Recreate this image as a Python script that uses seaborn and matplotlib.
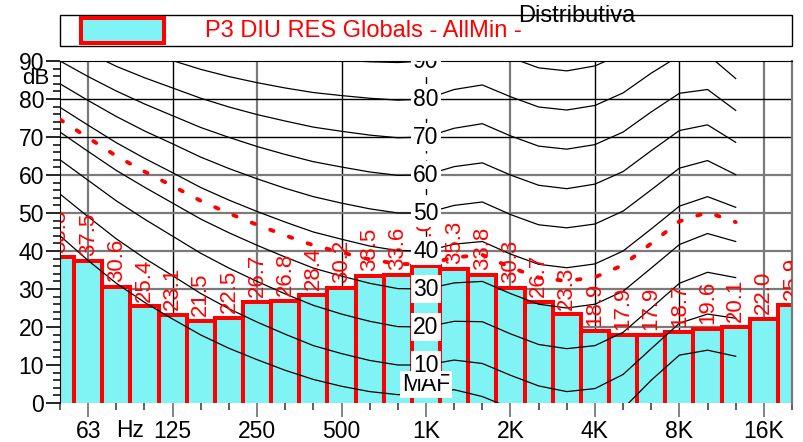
import numpy as np
import pandas as pd
import matplotlib
matplotlib.use("Agg")
import matplotlib.pyplot as plt
from matplotlib.patches import Rectangle
import seaborn as sns

# ---------------- data ----------------
bands = ["50", "63", "80", "100", "125", "160", "200", "250", "315", "400", "500",
         "630", "800", "1K", "1.25K", "1.6K", "2K", "2.5K", "3.15K", "4K", "5K",
         "6.3K", "8K", "10K", "12.5K", "16K", "20K"]
levels = [38.3, 37.5, 30.6, 25.4, 23.1, 21.5, 22.5, 26.7, 26.8, 28.4, 30.2,
          33.5, 33.6, 36.0, 35.3, 33.8, 30.3, 26.7, 23.3, 18.9, 17.9,
          17.9, 18.7, 19.6, 20.1, 22.0, 25.9]

# equal-loudness contours, 50 Hz .. 12.5 kHz (third-octave points)
contour_bands = bands[:25]
maf = [44.0, 37.5, 31.5, 26.5, 22.1, 17.9, 14.4, 11.4, 8.6, 6.2, 4.4, 3.0, 2.2, 2.4, 3.5, 1.7, -1.3, -4.2, -6.0, -5.4, -1.5, 6.0, 12.6, 13.9, 12.3]
phon10 = [55.0, 49.0, 43.2, 38.1, 33.5, 28.8, 24.8, 21.3, 18.1, 15.1, 13.0, 11.2, 10.0, 10.0, 11.3, 10.4, 7.3, 4.5, 3.0, 3.8, 7.5, 14.3, 21.0, 23.4, 22.3]
phon20 = [64.0, 58.6, 53.2, 48.4, 43.9, 39.4, 35.5, 32.0, 28.7, 25.7, 23.4, 21.5, 20.1, 20.0, 21.5, 21.4, 18.2, 15.4, 14.3, 15.1, 18.6, 25.0, 31.5, 34.4, 33.0]
phon30 = [71.3, 66.2, 61.2, 56.8, 52.6, 48.4, 44.8, 41.5, 38.4, 35.5, 33.4, 31.5, 30.1, 30.0, 31.6, 32.0, 28.8, 26.0, 25.0, 26.0, 29.4, 35.5, 41.7, 44.6, 42.5]
phon40 = [77.8, 73.1, 68.5, 64.4, 60.6, 56.7, 53.4, 50.4, 47.6, 45.0, 43.1, 41.3, 40.1, 40.0, 41.8, 42.5, 39.2, 36.5, 35.6, 36.6, 40.0, 45.8, 51.8, 54.3, 51.5]
phon50 = [84.0, 79.6, 75.4, 71.6, 68.2, 64.7, 61.7, 59.0, 56.5, 54.3, 52.6, 51.1, 50.0, 50.0, 52.0, 52.9, 49.6, 46.9, 46.1, 47.1, 50.5, 56.1, 61.8, 63.8, 60.1]
phon60 = [90.0, 85.9, 82.1, 78.7, 75.6, 72.5, 69.9, 67.5, 65.4, 63.5, 62.1, 60.8, 59.9, 60.0, 62.2, 63.2, 60.0, 57.3, 56.4, 57.6, 60.9, 66.4, 71.7, 73.2, 68.6]
phon70 = [95.9, 92.2, 88.6, 85.6, 82.9, 80.2, 77.9, 75.9, 74.2, 72.6, 71.5, 70.5, 69.8, 70.0, 72.3, 73.5, 70.3, 67.6, 66.8, 68.0, 71.3, 76.6, 81.5, 82.5, 77.0]
phon80 = [101.7, 98.4, 95.2, 92.5, 90.1, 87.8, 85.9, 84.3, 82.9, 81.7, 80.9, 80.2, 79.7, 80.0, 82.5, 83.7, 80.6, 77.9, 77.1, 78.3, 81.6, 86.8, 91.4, 91.7, 85.4]
phon90 = [107.5, 104.5, 101.7, 99.3, 97.3, 95.4, 93.9, 92.6, 91.6, 90.8, 90.2, 89.8, 89.6, 90.0, 92.6, 94.0, 90.9, 88.2, 87.4, 88.7, 92.0, 97.0, 101.3, 101.0, 93.7]
contour_names = ["MAF", "10", "20", "30", "40", "50", "60", "70", "80", "90"]
contour_label_y = [4.9, 10, 20, 30, 40, 50, 60, 70, 80, 90]

# red dotted loudness curve
red_curve = [74.6, 69.8, 65.0, 60.9, 57.1, 53.2, 49.9, 46.9, 44.1, 41.5, 39.6, 37.8, 36.6, 36.5, 38.3, 39.0, 35.7, 33.0, 32.1, 33.1, 36.3, 42.0, 47.8, 50.2, 47.6]

xtick_labels = ["63", "125", "250", "500", "1K", "2K", "4K", "8K", "16K"]
legend_text = "P3 DIU RES Globals - AllMin -"
title_text = "Distributiva"

# ---------------- style ----------------
plt.rcParams['font.family'] = ['Liberation Sans', 'DejaVu Sans']
W, H = 804, 442
fig = plt.figure(figsize=(W / 100, H / 100), dpi=100)
ax = fig.add_axes([60 / W, 39 / H, 732 / W, 342 / H])

RED = "#FF0000"
FILL = "#80F4F4"
GRAY = "#7a7a7a"

# gridlines (behind bars)
octave_idx = [bands.index(b) for b in xtick_labels]
black_v = {"125", "500", "4K", "8K"}
for b, i in zip(xtick_labels, octave_idx):
    if b == "1K":
        ax.axvline(i, color="black", lw=1.0, ls=(0, (5, 5)), zorder=0.5)
    else:
        ax.axvline(i, color="black" if b in black_v else GRAY,
                   lw=1.0 if b in black_v else 1.6, zorder=0.5)
for yv in range(10, 90, 10):
    blk = yv in (70, 80)
    ax.axhline(yv, color="black" if blk else GRAY, lw=1.0 if blk else 1.6, zorder=0.5)

# bars
df = pd.DataFrame({"band": bands, "level": levels})
sns.barplot(data=df, x="band", y="level", order=bands, width=1.0, color=FILL,
            saturation=1, edgecolor=RED, linewidth=2.9, ax=ax, zorder=1)
for p in ax.patches:
    p.set_facecolor(FILL)
    p.set_y(-3)
    p.set_height(p.get_height() + 3)

# bar value labels
for i, v in enumerate(levels):
    ax.text(i, v + 1.3, f"{v:.1f}", rotation=90, ha="center", va="bottom",
            color=RED, fontsize=16, zorder=4, clip_on=True)

# contours
cidx = np.arange(len(contour_bands))
for name, vals in zip(contour_names, [maf, phon10, phon20, phon30, phon40, phon50,
                                       phon60, phon70, phon80, phon90]):
    sns.lineplot(x=cidx, y=vals, color="black", lw=0.9, ax=ax, zorder=3)

sns.lineplot(x=cidx, y=red_curve, color=RED, lw=2.8, ax=ax, zorder=3,
             dashes=False)
ax.lines[-1].set_dashes([0.9, 4.2])
ax.lines[-1].set_dash_capstyle("round")

# contour labels at 1 kHz
k1 = bands.index("1K")
for name, yv in zip(contour_names, contour_label_y):
    ax.text(k1, yv, name, ha="center", va="center", fontsize=16.5, color="black",
            zorder=6, clip_on=True,
            bbox=dict(boxstyle="square,pad=0.1", fc="white", ec="none"))

# axes
ax.set_xlim(0, len(bands) - 1)
ax.set_ylim(0, 90)
ax.set_xlabel("")
ax.set_ylabel("")
ax.set_xticks(octave_idx)
ax.set_xticklabels(xtick_labels)
ax.set_xticks([i for i in range(len(bands)) if i not in octave_idx], minor=True)
ax.set_yticks(range(0, 91, 10))
ax.set_yticks(range(0, 91, 2), minor=True)
ax.tick_params(axis="x", which="major", length=10, width=1.3, color=GRAY,
               labelsize=16.5, pad=2.5)
ax.tick_params(axis="x", which="minor", length=5, width=1.1, color="#333333")
ax.tick_params(axis="y", which="major", length=10, width=1.2, color="black",
               labelsize=16.5, pad=1.5)
ax.tick_params(axis="y", which="minor", length=5, width=1.1, color="black")
ax.spines["bottom"].set_visible(False)
ax.spines["left"].set_color("black")
ax.spines["top"].set_color("black")
ax.spines["right"].set_color(GRAY)
ax.spines["right"].set_linewidth(1.6)
ax.text(2.48, -0.048, "Hz", transform=ax.get_xaxis_transform(), ha="center",
        va="top", fontsize=16.5)
fig.text(36 / W, 1 - 78 / H, "dB", ha="center", va="center", fontsize=16)

# legend
def px(x, y, w, h):
    return (x / W, 1 - (y + h) / H), w / W, h / H

xy, w, h = px(60, 15, 732, 31)
fig.add_artist(Rectangle(xy, w, h, transform=fig.transFigure, fc="white",
                         ec="black", lw=1.0))
xy, w, h = px(81, 18, 83, 25)
fig.add_artist(Rectangle(xy, w, h, transform=fig.transFigure, fc=FILL,
                         ec=RED, lw=2.9))
fig.text(205 / W, 1 - 31 / H, legend_text, color=RED, fontsize=17,
         ha="left", va="center")
fig.text(518 / W, 1 - 16 / H, title_text, color="black", fontsize=17,
         ha="left", va="center")

fig.savefig("out.png", dpi=100)
